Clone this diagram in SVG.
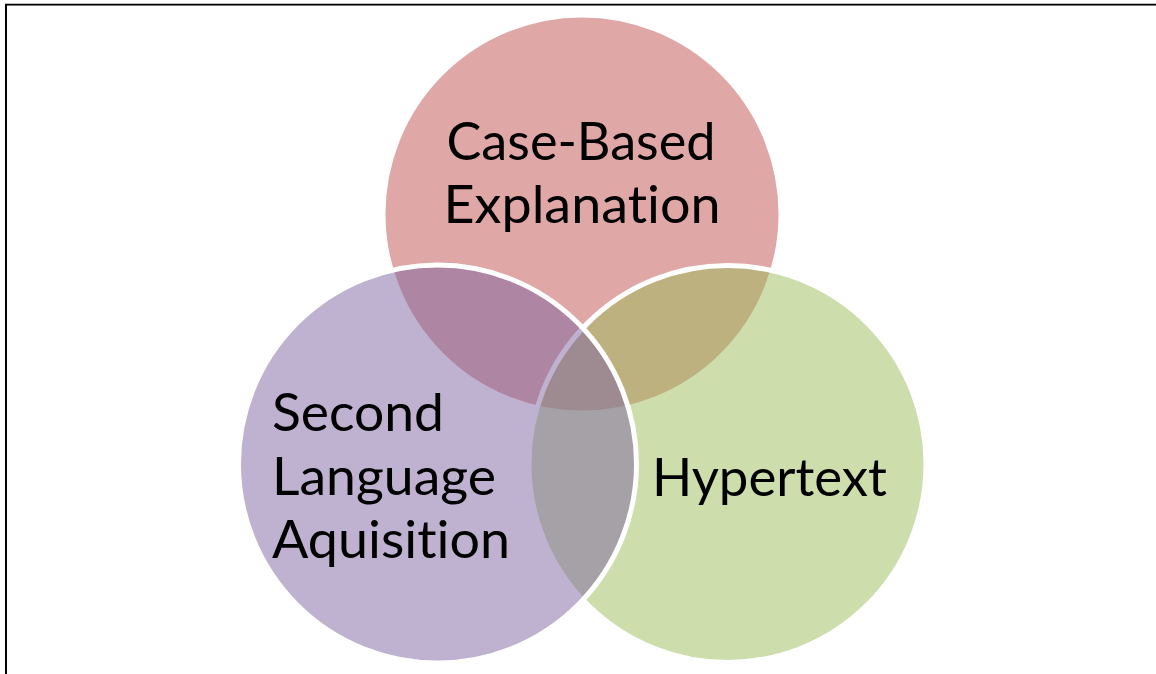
<svg xmlns="http://www.w3.org/2000/svg" width="1156" height="674" viewBox="0 0 1156 674">
<style>
.c{stroke:#FFFFFF;stroke-width:5}
.t{font-family:Lato,"Open Sans","Liberation Sans",sans-serif;font-size:52px;fill:#000000;font-variant-ligatures:none;font-feature-settings:"liga" 0,"clig" 0}
</style>
<rect x="0" y="0" width="1156" height="674" fill="#FFFFFF"/>
<g id="frame">
<line x1="5" y1="5.5" x2="1156" y2="5.5" stroke="#9A9A9A" stroke-width="1"/>
<line x1="5" y1="4.5" x2="1156" y2="4.5" stroke="#000000" stroke-width="1.5"/>
<line x1="6" y1="4" x2="6" y2="674" stroke="#000000" stroke-width="2"/>
</g>
<g id="connectors"></g>
<g id="case-based-explanation">
<circle class="c" cx="582" cy="214" r="199" fill="#C0504D" fill-opacity="0.5"/>
<text class="t" x="581" y="160" text-anchor="middle" textLength="269" lengthAdjust="spacingAndGlyphs">Case-Based</text>
<text class="t" x="582" y="223" text-anchor="middle" textLength="277" lengthAdjust="spacingAndGlyphs">Explanation</text>
</g>
<g id="hypertext">
<circle class="c" cx="727.5" cy="464" r="198.5" fill="#9BBB59" fill-opacity="0.5"/>
<text class="t" x="652" y="496" textLength="235" lengthAdjust="spacingAndGlyphs">Hypertext</text>
</g>
<g id="second-language-acquisition">
<circle class="c" cx="437.5" cy="464" r="199" fill="#8064A2" fill-opacity="0.5"/>
<text class="t" x="272" y="431" textLength="172" lengthAdjust="spacingAndGlyphs">Second</text>
<text class="t" x="272" y="494.5" textLength="224" lengthAdjust="spacingAndGlyphs">Language</text>
<text class="t" x="272" y="558" textLength="238" lengthAdjust="spacingAndGlyphs">Aquisition</text>
</g>
</svg>
